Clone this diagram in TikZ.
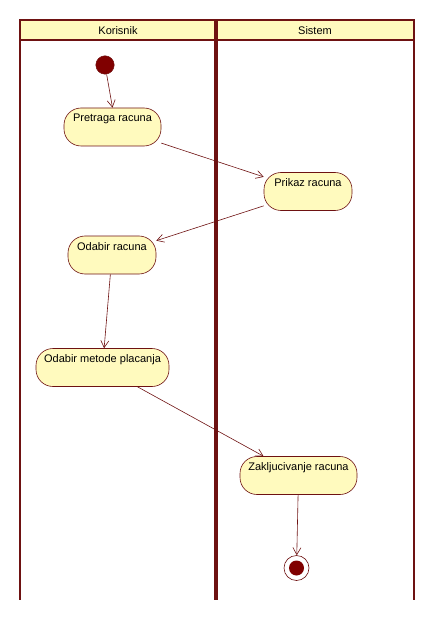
\documentclass[tikz,border=0pt]{standalone}
\usepackage{fontspec}
\setmainfont{Liberation Sans}
\usepackage{xcolor}
\usepackage{tikz}
\usetikzlibrary{arrows.meta,positioning}
\definecolor{lanered}{RGB}{110,18,18}
\definecolor{actfill}{RGB}{255,250,190}
\definecolor{dotred}{RGB}{128,0,0}
\tikzset{>={Straight Barb[length=7pt,width=8pt]}}

\begin{document}
\begin{tikzpicture}[x=1pt,y=-1pt,
                          lane/.style={line width=2pt, lanered},
                          divider/.style={line width=3.5pt, lanered},
                          activity/.style={draw=lanered, fill=actfill, line width=0.6pt,
                                           rounded corners=17pt, minimum width=88pt,
                                           inner sep=4pt, text height=10pt, text depth=20pt,
                                           font=\fontsize{11}{13}\selectfont},
                          flow/.style={->, lanered, line width=0.6pt},
                         ]

\useasboundingbox (0,0) rectangle (435,620);

% swimlanes
\draw[lane, fill=actfill] (20,20) rectangle (414,40);
\draw[lane] (20,40) -- (20,600);
\draw[lane] (414,40) -- (414,600);
\draw[divider] (216,20) -- (216,600);

\node (korisnik) at (118,30.5) {\fontsize{11}{13}\selectfont Korisnik};
\node (sistem) at (315,30.5) {\fontsize{11}{13}\selectfont Sistem};

% start and end
\node[circle, fill=dotred, draw=lanered, minimum size=18.5pt, inner sep=0pt] (start) at (105,65) {};
\node[circle, draw=lanered, fill=white, line width=0.6pt, minimum size=25pt, inner sep=0pt] (end) at (296.5,568) {};
\fill[dotred] (end) circle (7.5pt);

% activities
\node[activity, minimum width=97pt] (pretraga) at (112.5,127) {Pretraga racuna};
\node[activity] (prikaz) at (308,191.5) {Prikaz racuna};
\node[activity] (odabirRacuna) at (112,255) {Odabir racuna};
\node[activity, minimum width=133pt] (odabirMetode) at (102.5,367.5) {Odabir metode placanja};
\node[activity, minimum width=117pt] (zakljucivanje) at (298.5,475.5) {Zakljucivanje racuna};

% transitions
\draw[flow] (start) -- (pretraga.north);
\draw[flow] (pretraga) -- (prikaz);
\draw[flow] (prikaz) -- (odabirRacuna);
\draw[flow] (odabirRacuna) -- (odabirMetode);
\draw[flow] (odabirMetode) -- (zakljucivanje);
\draw[flow] (zakljucivanje) -- (end);

\end{tikzpicture}
\end{document}
